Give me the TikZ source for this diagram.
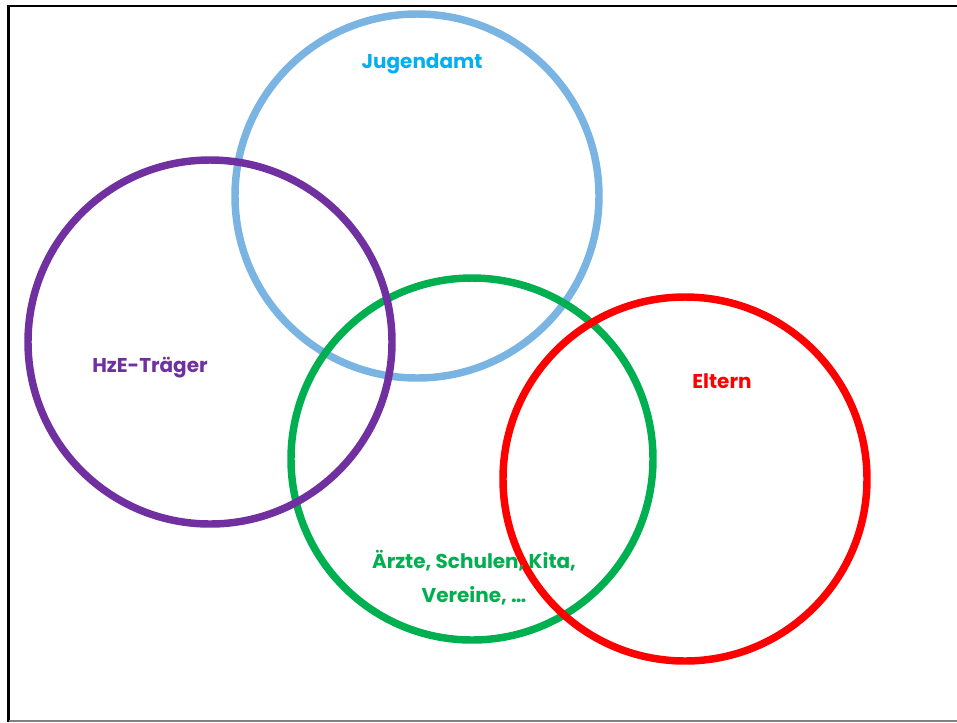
\documentclass[tikz,border=0pt]{standalone}
\usepackage{fontspec}
\setmainfont{Poppins}
\definecolor{jblue}{RGB}{122,180,227}
\definecolor{jtext}{RGB}{0,176,240}
\definecolor{hpurple}{RGB}{112,48,160}
\definecolor{agreen}{RGB}{0,176,80}
\definecolor{ered}{RGB}{255,0,0}
\begin{document}
\begin{tikzpicture}[x=0.75pt,y=-0.75pt,
  ring/.style={line width=5.6pt},
  lbl/.style={font=\bfseries\fontsize{15}{25.5}\selectfont, align=center, inner sep=0pt}]
\useasboundingbox (0,0) rectangle (957,722);
\fill[white] (0,0) rectangle (957,722);
\draw[line width=2.2pt] (8.5,722) -- (8.5,6) -- (957,6);
\draw[gray, line width=1.5pt] (8.5,721) -- (957,721);
\coordinate (cb) at (417,196);
\coordinate (cp) at (210,342);
\coordinate (cg) at (472,459);
\coordinate (cr) at (685,479);
\draw[ring, jblue] (cb) circle [radius=182];
\draw[ring, agreen] (cg) circle [radius=181];
\draw[ring, ered] (cr) circle [radius=182];
\draw[ring, hpurple] (cp) circle [radius=182];
\node[lbl, text=jtext] (tj) at (422,64) {Jugendamt};
\node[lbl, text=hpurple] (th) at (150,368) {HzE-Träger};
\node[lbl, text=ered] (te) at (722,381) {Eltern};
\node[lbl, text=agreen] (ta) at (474,578) {Ärzte, Schulen, Kita,\\Vereine, …};
\end{tikzpicture}
\end{document}
